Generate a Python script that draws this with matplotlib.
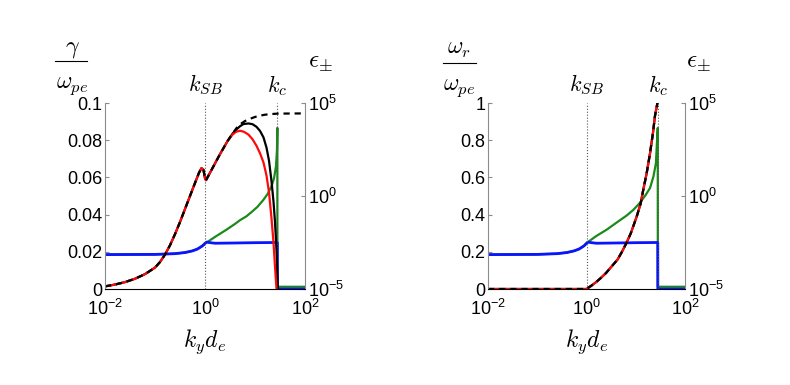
import numpy as np
import matplotlib
matplotlib.use('Agg')
import matplotlib.pyplot as plt
from matplotlib.lines import Line2D
from matplotlib.transforms import blended_transform_factory

plt.rcParams['font.family'] = ['Liberation Sans', 'DejaVu Sans']
plt.rcParams['mathtext.fontset'] = 'custom'
plt.rcParams['mathtext.rm'] = 'Liberation Sans'
plt.rcParams['mathtext.it'] = 'Liberation Sans:italic'

k_sb = 1.0
k_c = 28.0

# ---- left panel: growth rate gamma/omega_pe, x given as log10(k_y d_e) ----
lx_common = [-2.0, -1.8, -1.6, -1.4, -1.2, -1.0, -0.9, -0.8, -0.7, -0.6, -0.5, -0.4,
             -0.3, -0.2, -0.12, -0.07, -0.03, 0.0, 0.02, 0.06, 0.15, 0.3, 0.45]
gam_common = [0.0014, 0.0024, 0.0037, 0.0055, 0.008, 0.0115, 0.0145, 0.0185, 0.0235,
              0.0295, 0.036, 0.043, 0.05, 0.057, 0.0625, 0.065, 0.064, 0.0595, 0.0585,
              0.0605, 0.065, 0.0725, 0.0795]

lx_black = [0.55, 0.63, 0.7, 0.77, 0.87, 0.95, 1.03, 1.1, 1.17, 1.23, 1.28, 1.33, 1.37,
            1.4, 1.43, 1.45, 1.455]
gam_black = [0.0835, 0.0858, 0.0875, 0.0887, 0.089, 0.0886, 0.0872, 0.085, 0.0815, 0.076,
             0.069, 0.058, 0.047, 0.036, 0.021, 0.006, 0.0]

lx_red = [0.55, 0.62, 0.7, 0.78, 0.87, 0.95, 1.03, 1.1, 1.17, 1.23, 1.28, 1.33, 1.37,
          1.4, 1.43]
gam_red = [0.083, 0.0845, 0.0851, 0.0845, 0.083, 0.0805, 0.077, 0.073, 0.068, 0.061,
           0.052, 0.038, 0.025, 0.012, 0.0]

lx_dash = [0.55, 0.63, 0.7, 0.8, 0.9, 1.0, 1.1, 1.2, 1.3, 1.46, 2.0]
gam_dash = [0.0835, 0.0865, 0.0885, 0.0903, 0.0915, 0.0925, 0.0932, 0.0937, 0.094,
            0.0943, 0.0944]

# eps_- (blue), log10 values, same in both panels
lx_blue = [-2.0, -1.0, -0.6, -0.4, -0.25, -0.15, -0.05, 0.0, 0.03, 0.08, 0.2, 0.5, 1.0,
           1.447, 1.448, 2.0]
leps_blue = [-3.15, -3.14, -3.1, -3.04, -2.95, -2.85, -2.68, -2.55, -2.48, -2.5, -2.54,
             -2.53, -2.51, -2.5, -5.0, -5.0]

# eps_+ (green), log10 values
lx_green_l = [-2.0, -1.0, -0.6, -0.4, -0.25, -0.15, -0.05, 0.0, 0.1, 0.2, 0.3, 0.43, 0.6,
              0.7, 0.83, 0.95, 1.05, 1.17, 1.25, 1.33, 1.38, 1.42, 1.44, 1.447, 1.448, 2.0]
leps_green_l = [-3.15, -3.14, -3.1, -3.04, -2.95, -2.85, -2.68, -2.55, -2.38, -2.2, -2.03,
                -1.81, -1.5, -1.3, -1.09, -0.82, -0.58, -0.2, 0.1, 0.52, 0.95, 1.6, 2.5,
                3.66, -4.88, -4.88]

# ---- right panel: real frequency omega_r/omega_pe ----
lx_wr = [-2.0, -1.0, 0.0, 0.1, 0.2, 0.29, 0.4, 0.5, 0.63, 0.72, 0.81, 0.9, 1.02, 1.1,
         1.15, 1.22, 1.29, 1.35, 1.39, 1.44]
wr = [0.0, 0.0, 0.0, 0.018, 0.038, 0.059, 0.087, 0.118, 0.158, 0.2, 0.247, 0.3, 0.39,
      0.46, 0.53, 0.62, 0.73, 0.84, 0.93, 1.0]

lx_green_r = [-2.0, -1.0, -0.6, -0.4, -0.25, -0.15, -0.05, 0.0, 0.2, 0.41, 0.6, 0.81,
              0.95, 1.08, 1.2, 1.29, 1.36, 1.41, 1.425, 1.447, 1.448, 2.0]
leps_green_r = [-3.15, -3.14, -3.1, -3.04, -2.95, -2.85, -2.68, -2.53, -2.15, -1.81,
                -1.45, -1.06, -0.75, -0.38, 0.05, 0.43, 1.06, 1.77, 2.6, 3.66, -4.88,
                -4.88]

W, H = 790, 385
fig = plt.figure(figsize=(W/100, H/100), dpi=100)
ax1 = fig.add_axes([105/W, 1-289/H, 200/W, 186/H])
ax2 = fig.add_axes([488/W, 1-289/H, 197/W, 186/H])

GRAY = '#8c8c8c'
GREEN = '#1a8a1a'
BLUE = '#0a14ff'
RED = '#ff0a0a'


def p10(v):
    return 10.0 ** np.asarray(v)


def fraction(num, den, xc, x0, x1, ybar):
    # stacked label drawn in figure pixels (from top-left)
    fig.text(xc/W, 1-(ybar-9)/H, num, ha='center', va='baseline',
             fontsize=17, math_fontfamily='cm')
    fig.add_artist(Line2D([x0/W, x1/W], [1-ybar/H, 1-ybar/H], color='black', lw=0.8,
                          transform=fig.transFigure))
    fig.text(xc/W, 1-(ybar+27)/H, den, ha='center', va='baseline',
             fontsize=17, math_fontfamily='cm')


def style(ax, axr, ymax, yticks, ylabels, ex):
    ax.set_xscale('log')
    ax.set_xlim(0.01, 100)
    ax.set_ylim(0, ymax)
    ax.set_xticks([0.01, 1, 100])
    ax.minorticks_off()
    ax.set_yticks(yticks)
    ax.set_yticklabels(ylabels)
    ax.tick_params(direction='in', length=3, color=GRAY, labelsize=13, pad=2)
    ax.tick_params(axis='x', length=0, pad=7)
    ax.spines['top'].set_visible(False)
    ax.spines['right'].set_visible(False)
    ax.spines['left'].set_color(GRAY)
    ax.spines['bottom'].set_color('black')
    ax.patch.set_alpha(0)
    axr.set_yscale('log')
    axr.set_ylim(1e-5, 1e5)
    axr.set_yticks([1e-5, 1e0, 1e5])
    axr.minorticks_off()
    axr.tick_params(direction='in', length=3, color=GRAY, labelsize=13, pad=2)
    for s in ['top', 'left', 'bottom']:
        axr.spines[s].set_visible(False)
    axr.spines['right'].set_color(GRAY)
    for kk in [k_sb, k_c]:
        ax.axvline(kk, color='#555555', lw=0.8, ls=':', zorder=1)
    tr = blended_transform_factory(ax.transData, ax.transAxes)
    ax.text(k_sb, 1.095, r'$k_{SB}$', transform=tr, ha='center', va='center',
            fontsize=16, math_fontfamily='cm')
    ax.text(k_c, 1.095, r'$k_c$', transform=tr, ha='center', va='center',
            fontsize=16, math_fontfamily='cm')
    ax.text(ex, 1.22, r'$\epsilon_{\pm}$', transform=ax.transAxes, ha='center',
            va='center', fontsize=18, math_fontfamily='cm')
    ax.set_xlabel(r'$k_y d_e$', fontsize=17, math_fontfamily='cm', labelpad=6)


dash = (0, (2.8, 2.2))

# left
ax1r = ax1.twinx()
ax1r.set_zorder(0)
ax1.set_zorder(1)
style(ax1, ax1r, 0.1, [0, 0.02, 0.04, 0.06, 0.08, 0.1],
      ['0', '0.02', '0.04', '0.06', '0.08', '0.1'], 1.075)
fraction(r'$\gamma$', r'$\omega_{pe}$', 72, 55, 87, 61)
ax1r.plot(p10(lx_green_l), p10(leps_green_l), color=GREEN, lw=1.6)
ax1r.plot(p10(lx_blue), p10(leps_blue), color=BLUE, lw=2.0)
ax1.plot(p10(lx_common + lx_black), gam_common + gam_black, color='black', lw=1.6)
ax1.plot(p10(lx_common + lx_red), gam_common + gam_red, color=RED, lw=1.6)
ax1.plot(p10(lx_common + lx_dash), gam_common + gam_dash, color='black', lw=1.6, ls=dash)

# right
ax2r = ax2.twinx()
ax2r.set_zorder(0)
ax2.set_zorder(1)
style(ax2, ax2r, 1.0, [0, 0.2, 0.4, 0.6, 0.8, 1.0],
      ['0', '0.2', '0.4', '0.6', '0.8', '1'], 1.066)
fraction(r'$\omega_r$', r'$\omega_{pe}$', 459, 443, 476, 63)
ax2r.plot(p10(lx_green_r), p10(leps_green_r), color=GREEN, lw=1.6)
ax2r.plot(p10(lx_blue), p10(leps_blue), color=BLUE, lw=2.0)
ax2.plot(p10(lx_wr), wr, color='black', lw=1.6)
ax2.plot(p10(lx_wr), wr, color=RED, lw=1.6)
ax2.plot(p10(lx_wr), wr, color='black', lw=1.6, ls=dash)

fig.savefig('out.png', dpi=100)
